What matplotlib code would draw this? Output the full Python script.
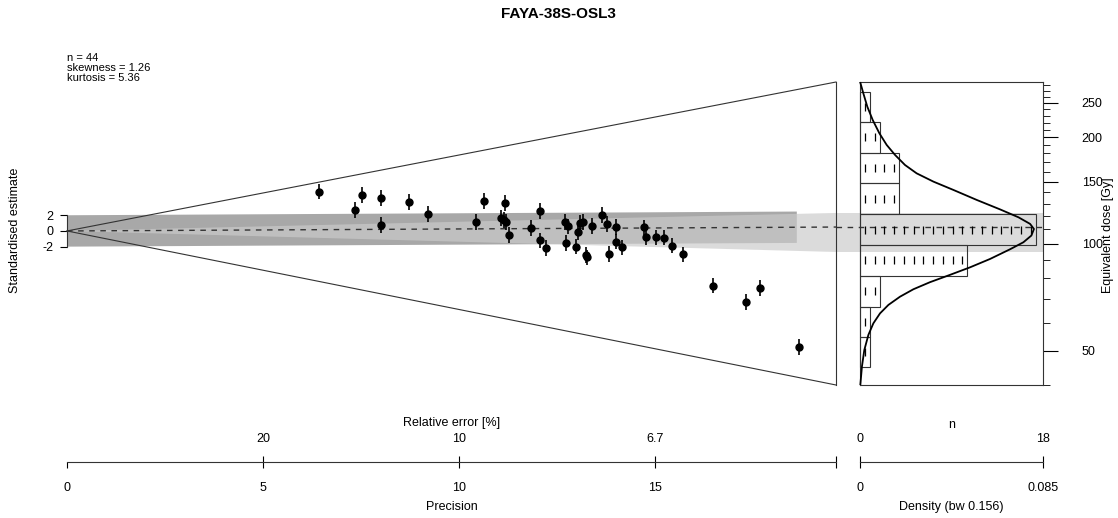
import numpy as np
import matplotlib
matplotlib.use('Agg')
import matplotlib.pyplot as plt
from matplotlib.ticker import NullFormatter

plt.rcParams['font.family'] = ['Liberation Sans', 'DejaVu Sans']
plt.rcParams['font.size'] = 9

# ---- values ----
title = 'FAYA-38S-OSL3'
stats_lines = ['n = 44', 'skewness = 1.26', 'kurtosis = 5.36']

precision = [6.43, 7.36, 7.53, 8.02, 8.02, 8.72, 9.21, 10.43, 10.64, 11.07,
             11.14, 11.21, 11.18, 11.28, 11.85, 12.08, 12.08, 12.21, 12.71, 12.78,
             12.73, 12.98, 13.03, 13.09, 13.17, 13.25, 13.27, 13.40, 13.64, 13.79,
             13.82, 14.01, 14.01, 14.17, 14.73, 14.78, 15.03, 15.22, 15.43, 15.71,
             16.47, 17.33, 17.68, 18.68]
std_estimate = [5.01, 2.68, 4.59, 4.17, 0.76, 3.69, 2.17, 1.11, 3.78, 1.62,
                1.40, 1.11, 3.53, -0.51, 0.34, 2.55, -1.21, -2.13, 1.18, 0.57,
                -1.57, -2.00, -0.09, 0.98, 1.18, -3.06, -3.38, 0.60, 2.04, 0.85,
                -2.96, 0.51, -1.36, -2.10, 0.45, -0.73, -0.83, -0.85, -1.87, -2.99,
                -6.97, -9.04, -7.30, -14.82]

prec_max = 19.62      # right edge of the radial plot
bar_prec = 18.62      # end of the +-2 bar
de_ref = 108.8        # De at standardised estimate 0
de_central = 111.6
de_band = [94.9, 122.3]
de_lim = [40.0, 286.3]

hist_edges = [44.9, 54.8, 66.5, 81.4, 99.4, 121.3, 148.3, 180.8, 221.2, 268.7]
hist_counts = [1, 1, 2, 11, 18, 4, 4, 2, 1]

kde_de = [285.1, 266.0, 243.9, 223.7, 205.2, 190.2, 178.2, 167.0, 158.2, 149.9,
          142.0, 133.1, 125.2, 118.9, 113.9, 110.2, 105.6, 101.1, 96.6, 90.7,
          85.9, 81.8, 78.0, 74.5, 71.0, 67.3, 63.7, 59.7, 55.4, 50.2, 45.1, 40.0]
kde_density = [0.00015, 0.00155, 0.0034, 0.0059, 0.0090, 0.0124, 0.0163, 0.0209,
               0.0263, 0.0341, 0.0434, 0.0542, 0.0650, 0.0736, 0.0790, 0.0808,
               0.0796, 0.0759, 0.0697, 0.0604, 0.0511, 0.0418, 0.0325, 0.0248,
               0.0186, 0.0132, 0.0093, 0.0062, 0.0039, 0.0020, 0.0009, 0.00015]

std_ticks = [-2, 0, 2]
prec_ticks = [0, 5, 10, 15]
prec_labels = ['0', '5', '10', '15']
relerr_ticks = [5, 10, 15]
relerr_labels = ['20', '10', '6.7']
de_major = [50, 100, 150, 200, 250]
de_minor = list(range(40, 290, 10))
n_max = 18
dens_max = 0.085

# ---- layout (pixel based) ----
W, H = 1118, 518
fig = plt.figure(figsize=(W / 100, H / 100), dpi=100)

def rect(x0, y0, x1, y1):
    return [x0 / W, 1 - y1 / H, (x1 - x0) / W, (y1 - y0) / H]

def ftext(x, y, s, **kw):
    fig.text(x / W, 1 - y / H, s, ha=kw.pop('ha', 'center'), va=kw.pop('va', 'center'), **kw)

line_col = '#333333'
px = 0.72  # points per pixel

def std_of(de, p):
    return np.log(de / de_ref) * p

# main radial panel
ax = fig.add_axes(rect(67, 82, 836, 385))
ax.set_xlim(0, prec_max)
ax.set_ylim(std_of(de_lim[0], prec_max), std_of(de_lim[1], prec_max))
ax.patch.set_visible(False)
for s in ['top', 'right', 'bottom']:
    ax.spines[s].set_visible(False)
ax.spines['left'].set_bounds(-2, 2)
ax.spines['left'].set_color(line_col)
ax.set_yticks(std_ticks, labels=[str(t) for t in std_ticks])
ax.tick_params(axis='y', length=7 * px, pad=5, colors='black')
ax.tick_params(axis='x', bottom=False, labelbottom=False)

slope = np.log(de_central / de_ref)
ax.fill([0, bar_prec, bar_prec, 0],
        [-2, slope * bar_prec - 2, slope * bar_prec + 2, 2],
        color='#a8a8a8', lw=0, zorder=1)
ax.fill([0, prec_max, prec_max],
        [0, std_of(de_band[1], prec_max), std_of(de_band[0], prec_max)],
        color='#cbcbcb', alpha=0.68, lw=0, zorder=2)
ax.plot([0, prec_max], [0, slope * prec_max], ls=(0, (4, 4)), color=line_col, lw=1, zorder=3)
ylo, yhi = ax.get_ylim()
ax.plot([0, prec_max], [0, yhi], color=line_col, lw=0.8, clip_on=False, zorder=3)
ax.plot([0, prec_max], [0, ylo], color=line_col, lw=0.8, clip_on=False, zorder=3)
ax.errorbar(precision, std_estimate, yerr=1, fmt='o', ms=5, color='black',
            elinewidth=1.2, capsize=0, zorder=5)

# right histogram / KDE panel
ax_r = fig.add_axes(rect(836, 82, 1043, 385))
ax_r.set_yscale('log')
ax_r.set_ylim(*de_lim)
ax_r.set_xlim(-24 / 9.75, 183 / 9.75)
ax_r.patch.set_visible(False)
ax_r.spines['top'].set_visible(False)
ax_r.spines['bottom'].set_visible(False)
ax_r.spines['left'].set_color(line_col)
ax_r.spines['right'].set_color(line_col)
ax_r.set_xticks([])
ax_r.yaxis.tick_right()
ax_r.set_yticks(de_major, labels=[str(v) for v in de_major])
ax_r.set_yticks([v for v in de_minor if v not in de_major], minor=True)
ax_r.yaxis.set_minor_formatter(NullFormatter())
ax_r.tick_params(axis='y', which='major', length=15 * px, pad=17, colors='black')
ax_r.tick_params(axis='y', which='minor', length=7 * px)

ax_r.axhspan(de_band[0], de_band[1], color='#cbcbcb', alpha=0.68, lw=0, zorder=0)
ax_r.axhline(de_central, ls=(0, (4, 4)), color=line_col, lw=1, zorder=3)
ax_r.plot([0, 0], de_lim, color=line_col, lw=0.8, clip_on=False)
xr = ax_r.get_xlim()[1]
ax_r.plot([0, xr], [de_lim[1]] * 2, color=line_col, lw=0.8, clip_on=False)
ax_r.plot([0, xr], [de_lim[0]] * 2, color=line_col, lw=0.8, clip_on=False)

ax_r.barh(hist_edges[:-1], hist_counts, height=np.diff(hist_edges), align='edge',
          fill=False, edgecolor=line_col, lw=0.8, zorder=2)
tx, ty = [], []
for lo, hi, c in zip(hist_edges[:-1], hist_edges[1:], hist_counts):
    for i in range(c):
        tx.append(i + 0.5)
        ty.append(np.sqrt(lo * hi))
ax_r.plot(tx, ty, ls='none', marker='|', ms=6, mew=0.9, color='black', zorder=4)

ax_k = ax_r.twiny()
ax_k.set_xlim(-24 * dens_max / 183, dens_max)
ax_k.axis('off')
ax_k.plot(kde_density, kde_de, color='black', lw=1.3, zorder=5)

# bottom axes: precision / relative error
ax_b = fig.add_axes([67 / W, 1 - 462 / H, 769 / W, 1e-4])
ax_b.set_xlim(0, prec_max)
ax_b.patch.set_visible(False)
for s in ['top', 'left', 'right']:
    ax_b.spines[s].set_visible(False)
ax_b.spines['bottom'].set_bounds(0, prec_max)
ax_b.spines['bottom'].set_color(line_col)
ax_b.set_yticks([])
ax_b.set_xticks(prec_ticks + [prec_max], labels=prec_labels + [''])
ax_b.tick_params(axis='x', length=6 * px, pad=10)
sec = ax_b.secondary_xaxis('top')
sec.spines['top'].set_visible(False)
sec.set_xticks(relerr_ticks + [prec_max], labels=relerr_labels + [''])
sec.tick_params(axis='x', length=6 * px, pad=8)

# bottom axes: n / density
ax_rb = fig.add_axes([860 / W, 1 - 462 / H, 183 / W, 1e-4])
ax_rb.set_xlim(0, dens_max)
ax_rb.patch.set_visible(False)
for s in ['top', 'left', 'right']:
    ax_rb.spines[s].set_visible(False)
ax_rb.spines['bottom'].set_color(line_col)
ax_rb.set_yticks([])
ax_rb.set_xticks([0, dens_max], labels=['0', str(dens_max)])
ax_rb.tick_params(axis='x', length=6 * px, pad=10)
sec2 = ax_rb.secondary_xaxis('top', functions=(lambda d: d * n_max / dens_max,
                                               lambda n: n * dens_max / n_max))
sec2.spines['top'].set_visible(False)
sec2.set_xticks([0, n_max], labels=['0', str(n_max)])
sec2.tick_params(axis='x', length=6 * px, pad=8)

# texts
ftext(558, 14, title, fontsize=11, fontweight='bold')
ftext(67, 53, '\n'.join(stats_lines), ha='left', va='top', fontsize=8, linespacing=1.0)
ftext(15, 230, 'Standardised estimate', rotation=90)
ftext(1108, 235, 'Equivalent dose [Gy]', rotation=90)
ftext(451.5, 423, 'Relative error [%]')
ftext(451.5, 507, 'Precision')
ftext(951.5, 425, 'n')
ftext(951.5, 507, 'Density (bw 0.156)')

fig.savefig('out.png', dpi=100)
